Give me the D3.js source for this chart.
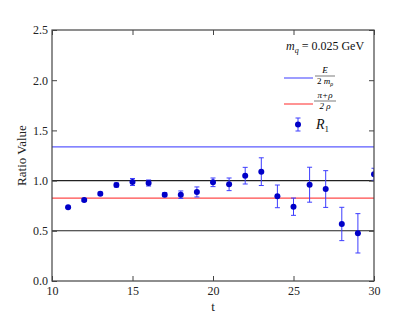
<!DOCTYPE html>
<html>
<head>
<meta charset="utf-8">
<script src="https://cdn.jsdelivr.net/npm/d3@7"></script>
<style>
  body { margin: 0; background: #fff; }
  svg text { font-family: "Liberation Serif", "DejaVu Serif", serif; }
</style>
</head>
<body>
<div id="chart"></div>
<script>
// data
var tValues = [11, 12, 13, 14, 15, 16, 17, 18, 19, 20, 21, 22, 23, 24, 25, 26, 27, 28, 29, 30];
var ratioValues = [0.734, 0.807, 0.870, 0.956, 0.986, 0.976, 0.860, 0.860, 0.887, 0.983, 0.963, 1.049, 1.089, 0.843, 0.740, 0.959, 0.916, 0.568, 0.475, 1.063];
var ratioErrors = [0.01, 0.015, 0.015, 0.02, 0.035, 0.03, 0.02, 0.037, 0.05, 0.043, 0.063, 0.083, 0.138, 0.113, 0.086, 0.174, 0.183, 0.166, 0.196, 0.06];
var xTicks = [10, 15, 20, 25, 30];
var yTicks = [0.0, 0.5, 1.0, 1.5, 2.0, 2.5];
var refLines = [1.0, 0.5];
var energyRatio = 1.335;   // E / 2 m_rho
var massRatio = 0.826;     // (pi + rho) / 2 rho

var width = 415, height = 315;
var margin = { top: 30, right: 41, bottom: 34, left: 52 };
var w = width - margin.left - margin.right;
var h = height - margin.top - margin.bottom;
var serif = "'Liberation Serif', 'DejaVu Serif', serif";

var svg = d3.select("#chart").append("svg")
  .attr("width", width)
  .attr("height", height);

var x = d3.scaleLinear().domain([10, 30]).range([0, w]);
var y = d3.scaleLinear().domain([0, 2.5]).range([h, 0]);

var g = svg.append("g").attr("transform", "translate(" + margin.left + "," + margin.top + ")");

g.append("clipPath").attr("id", "plot-clip")
  .append("rect").attr("width", w).attr("height", h);

var plot = g.append("g").attr("clip-path", "url(#plot-clip)");

refLines.forEach(function (v) {
  plot.append("line")
    .attr("x1", 0).attr("x2", w)
    .attr("y1", y(v)).attr("y2", y(v))
    .attr("stroke", "#222").attr("stroke-width", 1.1);
});

plot.append("line")
  .attr("x1", 0).attr("x2", w)
  .attr("y1", y(energyRatio)).attr("y2", y(energyRatio))
  .attr("stroke", "#5b5bff").attr("stroke-width", 1.2);

plot.append("line")
  .attr("x1", 0).attr("x2", w)
  .attr("y1", y(massRatio)).attr("y2", y(massRatio))
  .attr("stroke", "#ff4a4a").attr("stroke-width", 1.2);

var points = tValues.map(function (t, i) {
  return { t: t, v: ratioValues[i], e: ratioErrors[i] };
});

var errColor = "#3d3dff";
var bars = plot.selectAll("g.err").data(points).enter().append("g").attr("class", "err");
bars.append("line")
  .attr("x1", function (d) { return x(d.t); })
  .attr("x2", function (d) { return x(d.t); })
  .attr("y1", function (d) { return y(d.v - d.e); })
  .attr("y2", function (d) { return y(d.v + d.e); })
  .attr("stroke", errColor).attr("stroke-width", 1);
[-1, 1].forEach(function (s) {
  bars.append("line")
    .attr("x1", function (d) { return x(d.t) - 2.5; })
    .attr("x2", function (d) { return x(d.t) + 2.5; })
    .attr("y1", function (d) { return y(d.v + s * d.e); })
    .attr("y2", function (d) { return y(d.v + s * d.e); })
    .attr("stroke", errColor).attr("stroke-width", 1);
});

plot.selectAll("circle.pt").data(points).enter().append("circle")
  .attr("class", "pt")
  .attr("cx", function (d) { return x(d.t); })
  .attr("cy", function (d) { return y(d.v); })
  .attr("r", 3)
  .attr("fill", "#0000c8");

// axes, ticks inward on all four sides
var frameColor = "#444";
function styleAxis(sel, showLabels) {
  sel.attr("font-family", serif);
  sel.select(".domain").remove();
  sel.selectAll(".tick line").attr("stroke", frameColor);
  sel.selectAll(".tick text")
    .attr("fill", "#222")
    .style("font-size", "12px")
    .style("font-family", serif);
  if (!showLabels) sel.selectAll(".tick text").remove();
}

g.append("g").attr("transform", "translate(0," + h + ")")
  .call(d3.axisBottom(x).tickValues(xTicks).tickFormat(d3.format("d")).tickSizeInner(-5).tickPadding(5))
  .call(styleAxis, true);
g.append("g")
  .call(d3.axisTop(x).tickValues(xTicks).tickSizeInner(-5))
  .call(styleAxis, false);
g.append("g")
  .call(d3.axisLeft(y).tickValues(yTicks).tickFormat(d3.format(".1f")).tickSizeInner(-5).tickPadding(4))
  .call(styleAxis, true);
g.append("g").attr("transform", "translate(" + w + ",0)")
  .call(d3.axisRight(y).tickValues(yTicks).tickSizeInner(-5))
  .call(styleAxis, false);

g.append("rect")
  .attr("width", w).attr("height", h)
  .attr("fill", "none").attr("stroke", frameColor).attr("stroke-width", 1.2);

// axis titles
svg.append("text")
  .attr("x", margin.left + w / 2).attr("y", 311)
  .attr("text-anchor", "middle")
  .style("font-size", "13px").attr("fill", "#222")
  .text("t");
svg.append("text")
  .attr("transform", "translate(26," + (margin.top + h / 2) + ") rotate(-90)")
  .attr("text-anchor", "middle")
  .style("font-size", "13px").attr("fill", "#222")
  .text("Ratio Value");

// legend
var lg = svg.append("g");
var mq = lg.append("text").attr("x", 286).attr("y", 50).style("font-size", "12px").attr("fill", "#111");
mq.append("tspan").style("font-style", "italic").text("m");
mq.append("tspan").attr("dy", 3).style("font-size", "8px").style("font-style", "italic").text("q");
mq.append("tspan").attr("dy", -3).text(" = 0.025 GeV");

lg.append("line").attr("x1", 284).attr("x2", 313).attr("y1", 78).attr("y2", 78)
  .attr("stroke", "#5b5bff").attr("stroke-width", 1.2);
lg.append("text").attr("x", 325).attr("y", 73).attr("text-anchor", "middle")
  .style("font-size", "9px").style("font-style", "italic").text("E");
lg.append("line").attr("x1", 315).attr("x2", 335).attr("y1", 76).attr("y2", 76)
  .attr("stroke", "#222").attr("stroke-width", 0.6);
var den1 = lg.append("text").attr("x", 325).attr("y", 84).attr("text-anchor", "middle").style("font-size", "9px");
den1.append("tspan").text("2 ");
den1.append("tspan").style("font-style", "italic").text("m");
den1.append("tspan").attr("dy", 2).style("font-size", "6px").style("font-style", "italic").text("ρ");

lg.append("line").attr("x1", 284).attr("x2", 313).attr("y1", 104).attr("y2", 104)
  .attr("stroke", "#ff4a4a").attr("stroke-width", 1.2);
lg.append("text").attr("x", 325).attr("y", 98).attr("text-anchor", "middle")
  .style("font-size", "9px").style("font-style", "italic").text("π+ρ");
lg.append("line").attr("x1", 314).attr("x2", 336).attr("y1", 101).attr("y2", 101)
  .attr("stroke", "#222").attr("stroke-width", 0.6);
lg.append("text").attr("x", 325).attr("y", 109).attr("text-anchor", "middle")
  .style("font-size", "9px").style("font-style", "italic").text("2 ρ");

lg.append("line").attr("x1", 298).attr("x2", 298).attr("y1", 118).attr("y2", 131)
  .attr("stroke", errColor).attr("stroke-width", 1);
lg.append("line").attr("x1", 295.5).attr("x2", 300.5).attr("y1", 118).attr("y2", 118)
  .attr("stroke", errColor).attr("stroke-width", 1);
lg.append("line").attr("x1", 295.5).attr("x2", 300.5).attr("y1", 131).attr("y2", 131)
  .attr("stroke", errColor).attr("stroke-width", 1);
lg.append("circle").attr("cx", 298).attr("cy", 124.5).attr("r", 3).attr("fill", "#0000c8");
var r1 = lg.append("text").attr("x", 316).attr("y", 129).style("font-size", "14px").attr("fill", "#111");
r1.append("tspan").style("font-style", "italic").text("R");
r1.append("tspan").attr("dy", 3).style("font-size", "9px").text("1");
</script>
</body>
</html>
